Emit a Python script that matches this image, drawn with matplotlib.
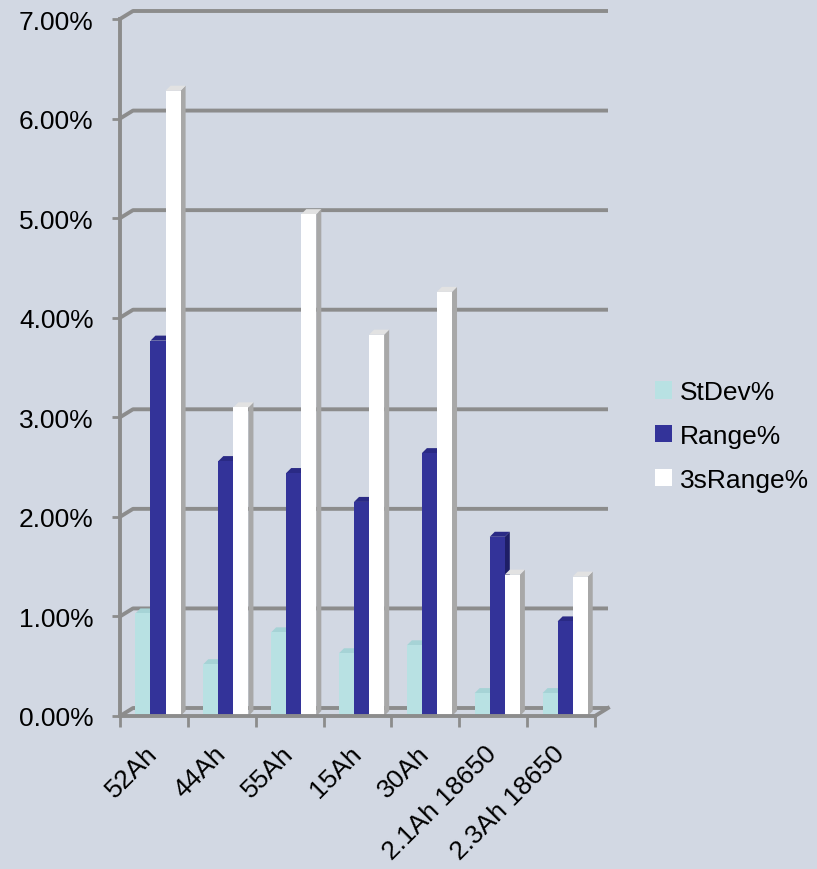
import matplotlib
matplotlib.use("Agg")
import matplotlib.pyplot as plt
from matplotlib.patches import Patch, Polygon
import numpy as np

# Datos (en %)
categorias = ["52Ah", "44Ah", "55Ah", "15Ah", "30Ah", "2.1Ah 18650", "2.3Ah 18650"]
stdev = [1.03, 0.52, 0.84, 0.63, 0.71, 0.23, 0.23]
rango = [3.77, 2.56, 2.44, 2.15, 2.64, 1.80, 0.95]
rango_3s = [6.28, 3.10, 5.04, 3.83, 4.26, 1.42, 1.40]
series = ["StDev%", "Range%", "3sRange%"]
y_ticks = [0, 1, 2, 3, 4, 5, 6, 7]

# Colores: frente, lado, tapa
colores = [("#b8e1e3", "#8fc2c6", "#a6d3d6"),
           ("#333399", "#1e1e66", "#2a2a85"),
           ("#ffffff", "#a8a8a8", "#e2e2e2")]
fondo = "#d2d8e3"
gris = "#8c8c8c"

W, H = 817, 870
fig = plt.figure(figsize=(W / 100, H / 100), dpi=100, facecolor=fondo)
plt.rcParams['font.family'] = ['Liberation Sans', 'DejaVu Sans']

pos = [120 / W, 1 - 717 / H, 475 / W, 697 / H]
ax = fig.add_axes(pos)
ax.set_facecolor("none")
n = len(categorias)
ax.set_xlim(0, n)
ax.set_ylim(0, 7)

# pixeles -> unidades de datos
ux = n / (pos[2] * W)
uy = 7 / (pos[3] * H)

# Cuadrícula en la pared del fondo (efecto 3D)
gx, gy = 13 * ux, 8 * uy
for t in y_ticks:
    ax.plot([0, gx, n + gx], [t, t + gy, t + gy], color=gris, lw=2.8,
            zorder=0.5, clip_on=False, solid_capstyle="butt")
ax.plot([n, n + gx], [0, gy], color=gris, lw=2.8, zorder=0.5, clip_on=False)

# Barras con cara lateral y tapa
ancho = 0.222
dx, dy = 5 * ux, 5 * uy
x = np.arange(n) + 0.5 + 0.06
for k, valores in enumerate([stdev, rango, rango_3s]):
    frente, lado, tapa = colores[k]
    xs = x + (k - 1) * ancho
    for xi, h in zip(xs, valores):
        x0, x1 = xi - ancho / 2, xi + ancho / 2
        ax.add_patch(Polygon([(x1, 0), (x1, h), (x1 + dx, h + dy), (x1 + dx, dy)],
                             closed=True, facecolor=lado, edgecolor="none",
                             zorder=2 + k, clip_on=False))
        ax.add_patch(Polygon([(x0, h), (x1, h), (x1 + dx, h + dy), (x0 + dx, h + dy)],
                             closed=True, facecolor=tapa, edgecolor="none",
                             zorder=2 + k, clip_on=False))
    ax.bar(xs, valores, width=ancho, color=frente, edgecolor="none",
           zorder=2 + k + 0.1)

for s in ["top", "right"]:
    ax.spines[s].set_visible(False)
for s in ["left", "bottom"]:
    ax.spines[s].set_color(gris)
    ax.spines[s].set_linewidth(2.8)
    ax.spines[s].set_zorder(6)

ax.set_yticks(y_ticks)
ax.set_yticklabels([f"{t:.2f}%" for t in y_ticks], fontsize=19)
ax.tick_params(axis="y", length=6, width=2, color=gris, pad=13)

ax.set_xticks(np.arange(n) + 0.5)
ax.set_xticklabels(categorias, fontsize=19, rotation=45, ha="right",
                   va="center", rotation_mode="anchor")
ax.tick_params(axis="x", which="major", length=0, pad=24)
ax.set_xticks(np.arange(n + 1), minor=True)
ax.tick_params(axis="x", which="minor", length=8, width=2, color=gris)

handles = [Patch(facecolor=c[0], edgecolor="none") for c in colores]
fig.legend(handles, series, loc="upper left",
           bbox_to_anchor=(655 / W, 1 - 381 / H), frameon=False,
           fontsize=19, handlelength=0.65, handleheight=0.65,
           handletextpad=0.3, labelspacing=0.75, borderpad=0,
           borderaxespad=0)

fig.savefig("out.png", dpi=100, facecolor=fondo)
